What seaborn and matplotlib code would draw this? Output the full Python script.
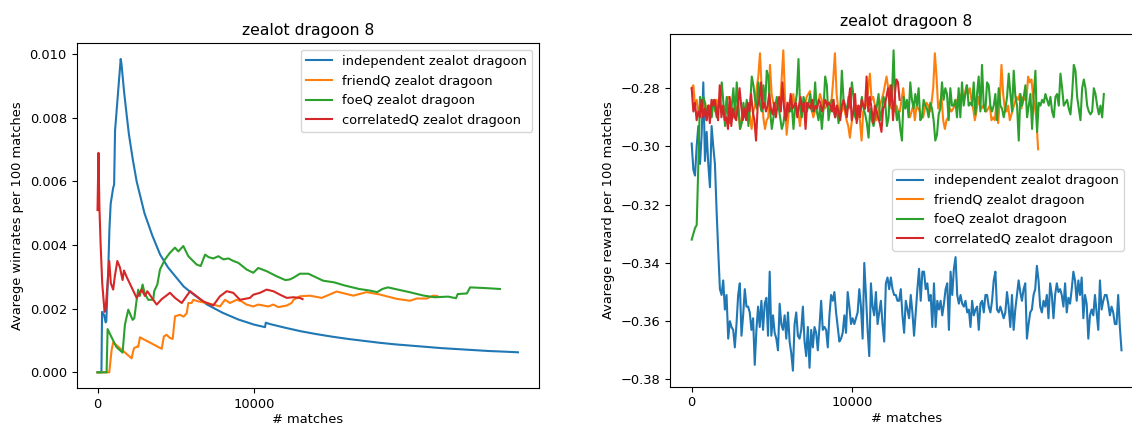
import matplotlib
matplotlib.use("Agg")
from matplotlib import pyplot as plt
import numpy as np
import seaborn as sns

labels = ["independent zealot dragoon", "friendQ zealot dragoon",
          "foeQ zealot dragoon", "correlatedQ zealot dragoon"]

# --- left panel: average winrate, (matches, value)
ind_x = [0, 250, 290, 420, 520, 560, 690, 760, 840, 1000, 1060, 1120, 1480, 1530, 1700, 1860,
         2000, 2250, 2500, 2750, 3000, 3500, 4000, 4500, 5000, 5500, 6000, 7000, 8000, 9000,
         10000, 10700, 10750, 11000, 12000, 13000, 14000, 15000, 16000, 17000, 18000, 19000,
         20000, 21000, 22000, 23000, 24000, 25000, 26000, 26860]
ind_y = [0, 0, 0.0019, 0.0018, 0.00157, 0.0016, 0.0033, 0.0045, 0.0053, 0.0058, 0.0059, 0.0076,
         0.00985, 0.0097, 0.0088, 0.0081, 0.0075, 0.0067, 0.0060, 0.0055, 0.0050, 0.0043, 0.0037,
         0.0033, 0.0030, 0.0027, 0.0025, 0.00213, 0.00187, 0.00166, 0.0015, 0.00142, 0.00156,
         0.00152, 0.0014, 0.00129, 0.0012, 0.00112, 0.00105, 0.00099, 0.00093, 0.00088, 0.00084,
         0.0008, 0.00076, 0.00073, 0.0007, 0.00067, 0.00065, 0.00063]

friend_x = [0, 750, 900, 1000, 1100, 2180, 2250, 2330, 2540, 2600, 2710, 4100, 4240, 4410, 4630,
            4800, 4950, 5270, 5500, 5700, 5800, 6010, 6120, 6440, 6970, 7390, 7820, 8140, 8460,
            8890, 9210, 9520, 9950, 10270, 10590, 10910, 11230, 11550, 12090, 12400, 12520, 12930,
            13570, 14320, 15280, 16340, 17190, 18000, 19110, 19960, 20390, 21030, 21450, 21700]
friend_y = [0, 0, 0.0007, 0.00094, 0.0009, 0.00044, 0.0006, 0.00076, 0.00081, 0.0008, 0.0011,
            0.00074, 0.00113, 0.00118, 0.00108, 0.00105, 0.00176, 0.00181, 0.00175, 0.00186,
            0.00218, 0.00218, 0.00228, 0.00223, 0.00218, 0.00213, 0.00207, 0.00228, 0.00218,
            0.00228, 0.00223, 0.00213, 0.00207, 0.00213, 0.0021, 0.00207, 0.00213, 0.00205,
            0.0021, 0.00218, 0.00228, 0.00239, 0.00241, 0.00234, 0.00254, 0.00241, 0.00252,
            0.00245, 0.00231, 0.00225, 0.00232, 0.00232, 0.00241, 0.0024]

foe_x = [0, 580, 643, 900, 1200, 1600, 1750, 1965, 2240, 2350, 2500, 2600, 2700, 2880, 3000, 3240,
         3560, 3620, 3820, 3990, 4310, 4630, 4950, 5160, 5480, 5800, 6330, 6590, 6870, 7100, 7400,
         7720, 8040, 8360, 8680, 9000, 9530, 9950, 10270, 10800, 11440, 12000, 12290, 12500,
         12930, 13470, 14410, 15100, 15790, 16710, 17400, 17860, 18200, 18550, 19010, 19930,
         20850, 21540, 22400, 22900, 23010, 23600, 23800, 24730, 25710]
foe_y = [0, 0, 0.00136, 0.0011, 0.0008, 0.00062, 0.0015, 0.00197, 0.00165, 0.0017, 0.00228,
         0.0026, 0.0024, 0.00276, 0.0025, 0.00228, 0.00228, 0.00255, 0.00276, 0.00323, 0.00355,
         0.00376, 0.00392, 0.0038, 0.00397, 0.00365, 0.00339, 0.00334, 0.0037, 0.00362, 0.00358,
         0.00365, 0.00355, 0.00358, 0.0035, 0.00344, 0.00323, 0.00313, 0.00328, 0.00318, 0.00302,
         0.0029, 0.00292, 0.00297, 0.0031, 0.0031, 0.00288, 0.00283, 0.00273, 0.00262, 0.00257,
         0.00252, 0.00262, 0.00267, 0.00262, 0.00252, 0.00241, 0.00236, 0.00238, 0.00233,
         0.00246, 0.00248, 0.00267, 0.00265, 0.00262]

corr_x = [0, 60, 120, 200, 300, 450, 520, 750, 850, 1000, 1100, 1265, 1430, 1600, 1690, 1860,
          2500, 2820, 3030, 3180, 3560, 3780, 4100, 4630, 4950, 5380, 5910, 6330, 6760, 7390,
          7820, 8250, 8670, 9100, 9740, 9950, 10380, 10800, 11230, 11660, 12090, 12510, 12930,
          13100]
corr_y = [0.0051, 0.0069, 0.0052, 0.0040, 0.0028, 0.0019, 0.0020, 0.0035, 0.0028, 0.0026, 0.0030,
          0.0035, 0.0033, 0.0029, 0.0032, 0.0030, 0.00234, 0.0026, 0.0024, 0.00255, 0.00228,
          0.00213, 0.0023, 0.0025, 0.00234, 0.00218, 0.00255, 0.00239, 0.00223, 0.0021, 0.00239,
          0.00255, 0.0025, 0.00228, 0.00234, 0.00244, 0.0025, 0.0026, 0.00255, 0.00244, 0.00234,
          0.00236, 0.00234, 0.0023]

# --- right panel: average reward per 100 matches (x 1/1000), one point per ~100 matches
ind_r_end = 26750
ind_r = [-299, -308, -310, -300, -293, -306, -296, -278, -305, -295, -306, -314, -293, -300, -306,
         -322, -336, -349,
         -351, -346, -356, -351, -366, -360, -362, -363, -369, -361,
         -351, -347, -365, -358, -349, -355, -355, -357, -363, -359,
         -375, -363, -355, -362, -353, -363, -354, -352, -365, -343,
         -365, -358, -364, -366, -370, -354, -361, -363, -358, -366,
         -357, -367, -371, -377, -361, -357, -365, -366, -363, -355,
         -367, -372, -362, -376, -363, -369, -362, -364, -370, -362,
         -353, -363, -362, -363, -369, -358, -351, -353, -350, -357,
         -362, -367, -366, -364, -358, -364, -350, -355, -361, -359,
         -361, -359, -357, -349, -355, -366, -340, -351, -363, -372,
         -347, -355, -358, -350, -361, -357, -353, -361, -367, -347,
         -345, -349, -345, -349, -351, -351, -353, -353, -349,
         -358, -364, -353, -356, -359, -351, -357, -365, -357, -349,
         -342, -353, -343, -343, -349, -347, -353, -351, -362, -347,
         -362, -353, -356, -353, -358, -354, -349, -347, -363, -343,
         -351, -342, -338, -351, -354, -351, -354, -355, -353, -357,
         -356, -362, -353, -358, -356, -355, -363, -354, -353, -357,
         -351, -351, -355, -357, -353, -346, -343, -356, -357, -355,
         -357, -359, -357, -350, -355, -362, -351, -363, -356, -351,
         -346, -350, -353, -349, -347, -366, -361, -357, -356, -351,
         -349, -341, -346, -355, -357, -353, -355, -351, -359, -347,
         -351, -359, -351, -347, -350, -349, -351, -355, -347, -357,
         -352, -354, -349, -343, -346, -353, -346, -351, -345, -359,
         -351, -354, -366, -358, -356, -358, -351, -357, -363, -346,
         -356, -353, -351, -351, -354, -358, -355, -357, -361, -361,
         -351, -362, -370]

friend_r_end = 21560
friend_r = [-280, -279, -286, -284, -288, -286, -288, -287, -285, -288,
            -286, -289, -287, -285, -288, -284, -287, -285, -288, -286,
            -288, -284, -283, -284, -287, -290, -286, -288, -285, -294,
            -291, -287, -289, -285, -287, -290, -294, -288, -286, -280,
            -276, -268, -280, -290, -294, -291, -290, -272, -282, -285,
            -287, -284, -286, -287, -277, -267, -283, -296, -290, -284,
            -286, -282, -287, -286, -288, -293, -288, -285, -286, -283,
            -282, -281, -287, -290, -288, -286, -285, -282, -284, -286,
            -287, -286, -285, -285,
            -284, -277, -268, -282, -287, -290, -288, -286, -288, -291,
            -293, -297, -292, -288, -287, -286, -289, -291, -298, -288,
            -287, -285, -280, -275, -284, -283, -286, -291, -288, -286,
            -284, -282, -279, -276, -280, -286, -287, -287, -288, -286,
            -288, -288, -284, -280, -286, -285, -287, -290, -288, -286,
            -291, -286, -287, -288, -290, -290, -287, -285, -286, -288,
            -285, -280, -268, -276, -287, -285, -283, -291, -294, -291,
            -290, -287, -288, -287, -286, -285, -283, -282, -284, -283,
            -282, -279, -282, -280,
            -284, -287, -291, -288, -283, -286, -287, -286, -287, -288,
            -287, -286, -291, -290, -291, -285, -292, -284, -272, -282,
            -287, -288, -286, -291, -289, -287, -285, -283, -284, -282,
            -287, -283, -284, -284, -276, -278, -277, -283, -286, -291,
            -301]

foe_r_end = 25650
foe_r = [-332, -330, -328, -327, -306,
         -283, -288, -283, -285, -291, -286, -286, -290, -284, -287,
         -290, -286, -285, -278, -285, -293, -283, -290, -292, -286,
         -280, -290, -278, -287, -294, -292, -285, -290, -284, -293,
         -286, -276, -279, -284, -287, -278, -286, -288, -279, -286,
         -274, -276, -288, -294, -290, -287, -283, -286, -290, -294,
         -292, -287, -290, -286, -288, -286, -294, -286, -282, -270,
         -287, -290, -283, -285, -288, -286, -282, -288, -287, -278,
         -288, -291, -286, -294, -287, -276, -279, -291, -287,
         -284, -288, -290, -286, -292, -288, -274, -284, -286, -288,
         -283, -287, -278, -283, -290, -291, -286, -288, -283, -287,
         -289, -292, -297, -287, -291, -293, -290, -286, -282, -291,
         -288, -283, -285, -293, -290, -279, -283, -267, -286, -291,
         -288, -294, -298, -283, -287, -284, -290, -278, -284, -287,
         -282, -286, -280, -291, -290, -284, -286, -287, -290, -285,
         -287, -291, -298, -296, -289, -287, -278, -284, -280, -282,
         -291, -280, -286, -286, -284, -290, -280, -290, -278, -286,
         -282, -279, -286, -285,
         -286, -278, -289, -282, -276, -288, -272, -286, -288, -278,
         -279, -286, -288, -286, -282, -291, -280, -286, -287, -290,
         -287, -283, -275, -282, -288, -274, -283, -286, -298, -282,
         -286, -283, -279, -290, -286, -282, -294, -282, -274, -295,
         -285, -286, -284, -285, -282, -284, -286, -283, -288, -290,
         -283, -282, -286, -275, -280, -286, -285, -284, -287, -289,
         -282, -272, -274, -283, -287, -291, -280, -277, -280, -286,
         -288, -289, -288, -280, -282, -286, -289, -286, -290, -282]

corr_r_end = 12940
corr_r = [-280, -288, -285, -291, -288, -290, -284, -290, -287, -291,
          -286, -292, -284, -286, -284, -288, -291, -279, -290, -286,
          -291, -290, -294, -283, -293, -287, -290, -291, -286, -280,
          -286, -291, -287, -291, -285, -288, -282, -288, -291, -298,
          -286, -284, -278, -287, -285, -288, -286, -282, -287, -289,
          -285, -290, -286, -283, -288, -278, -287, -291, -285, -288,
          -282, -287, -286, -285, -290, -286, -283, -288, -285, -294,
          -285, -286, -287, -284, -288, -286, -287, -284, -285, -288,
          -286, -284, -286, -285,
          -286, -288, -284, -290, -286, -288, -291, -286, -284, -287,
          -290, -285, -280, -291, -288, -282, -292, -286, -290, -284,
          -286, -287, -276, -288, -283, -287, -292, -286, -288, -290,
          -292, -295, -287, -286, -283, -280, -286, -279, -291, -283,
          -277, -278, -284]

plt.rcParams['font.size'] = 9.4

fig = plt.figure(figsize=(11.32, 4.25), dpi=100)
ax1 = fig.add_axes([76.5 / 1132, 37 / 425, 462.5 / 1132, 344.7 / 425])
ax2 = fig.add_axes([670.2 / 1132, 38.3 / 425, 472.8 / 1132, 352.4 / 425])

# left
left = [(ind_x, ind_y), (friend_x, friend_y), (foe_x, foe_y), (corr_x, corr_y)]
for (xs, ys), lab in zip(left, labels):
    sns.lineplot(x=xs, y=ys, ax=ax1, label=lab)
ax1.set_title("zealot dragoon 8")
ax1.set_xlabel("# matches", labelpad=1.5)
ax1.set_ylabel("Avarege winrates per 100 matches")
ax1.set_xticks([0, 10000])
ax1.set_yticks([0, 0.002, 0.004, 0.006, 0.008, 0.010])
ax1.legend(loc="upper right")

# right
right = [(ind_r, ind_r_end), (friend_r, friend_r_end), (foe_r, foe_r_end), (corr_r, corr_r_end)]
for (vals, end), lab in zip(right, labels):
    xs = np.linspace(0, end, len(vals))
    sns.lineplot(x=xs, y=np.array(vals) / 1000, ax=ax2, label=lab)
ax2.set_title("zealot dragoon 8")
ax2.set_xlabel("# matches", labelpad=1.5)
ax2.set_ylabel("Avarege reward per 100 matches")
ax2.set_xticks([0, 10000])
ax2.set_yticks([-0.38, -0.36, -0.34, -0.32, -0.30, -0.28])
ax2.legend(loc="center left", bbox_to_anchor=(892 / 1132, 1 - 210 / 425),
           bbox_transform=fig.transFigure, borderaxespad=0)

fig.savefig("out.png", dpi=100)
